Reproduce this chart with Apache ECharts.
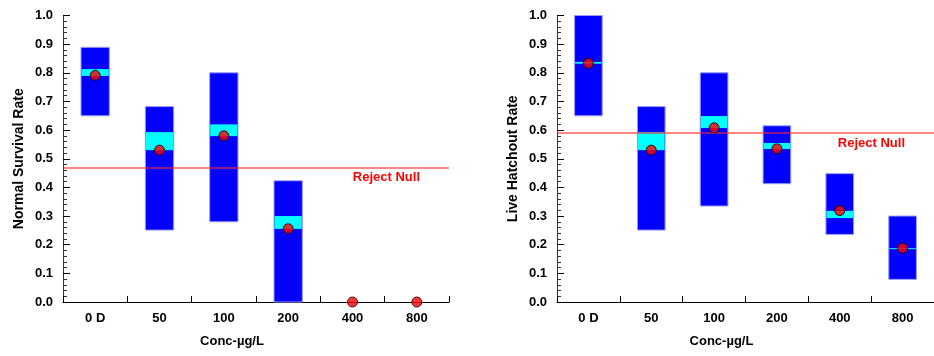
<!DOCTYPE html>
<html>
<head>
<meta charset="utf-8">
<script src="https://cdn.jsdelivr.net/npm/echarts@6/dist/echarts.min.js"></script>
<style>
html,body{margin:0;padding:0;background:#fff;}
#chart{width:934px;height:356px;}
</style>
</head>
<body>
<div id="chart"></div>
<script>
var categories = ['0 D', '50', '100', '200', '400', '800'];
var yTicks = [0, 0.1, 0.2, 0.3, 0.4, 0.5, 0.6, 0.7, 0.8, 0.9, 1.0];

// Left panel: Normal Survival Rate
var survMin    = [0.650, 0.251, 0.280, 0.000, null, null];
var survMax    = [0.889, 0.682, 0.800, 0.423, null, null];
var survBandLo = [0.789, 0.530, 0.579, 0.255, null, null];
var survBandHi = [0.813, 0.593, 0.620, 0.300, null, null];
var survMean   = [0.791, 0.530, 0.580, 0.256, 0.000, 0.000];
var survReject = 0.465;

// Right panel: Live Hatchout Rate
var hatchMin    = [0.650, 0.251, 0.335, 0.413, 0.236, 0.079];
var hatchMax    = [1.000, 0.682, 0.800, 0.615, 0.448, 0.300];
var hatchBandLo = [0.832, 0.530, 0.607, 0.534, 0.293, 0.186];
var hatchBandHi = [0.838, 0.593, 0.649, 0.555, 0.318, 0.188];
var hatchMean   = [0.833, 0.530, 0.608, 0.535, 0.319, 0.188];
var hatchReject = 0.587;

var FONT = "'Liberation Sans', Arial, sans-serif";

function boxData(mn, mx, lo, hi) {
  var out = [];
  for (var i = 0; i < categories.length; i++) {
    if (mn[i] == null) continue;
    out.push([i, mn[i], mx[i], lo[i], hi[i]]);
  }
  return out;
}

function renderBox(params, api) {
  var idx = api.value(0);
  var pMin = api.coord([idx, api.value(1)]);
  var pMax = api.coord([idx, api.value(2)]);
  var pLo = api.coord([idx, api.value(3)]);
  var pHi = api.coord([idx, api.value(4)]);
  var w = api.size([1, 0])[0] * 0.44;
  var x = pMin[0] - w / 2;
  return {
    type: 'group',
    children: [
      {type: 'rect', shape: {x: x, y: pMax[1], width: w, height: pMin[1] - pMax[1]},
       style: {fill: '#0000ff', stroke: '#9a9aff', lineWidth: 1}},
      {type: 'rect', shape: {x: x + 0.5, y: pHi[1], width: w - 1, height: Math.max(pLo[1] - pHi[1], 1)},
       style: {fill: '#00ffff'}}
    ]
  };
}

function xAxisCfg(gi) {
  return {
    gridIndex: gi, type: 'category', data: categories, boundaryGap: true,
    name: 'Conc-\u00b5g/L', nameLocation: 'middle', nameGap: 33,
    nameTextStyle: {fontFamily: FONT, fontWeight: 'bold', fontSize: 13, color: '#000', padding: [0, 48, 0, 0]},
    axisLine: {show: true, lineStyle: {color: '#000', width: 1}},
    axisTick: {show: true, inside: true, length: 6, interval: 0, alignWithLabel: false, lineStyle: {color: '#000'}},
    axisLabel: {interval: 0, margin: 10, fontFamily: FONT, fontWeight: 'bold', fontSize: 13, color: '#000'},
    splitLine: {show: false}
  };
}

function yAxisCfg(gi, name) {
  return {
    gridIndex: gi, type: 'value', min: 0, max: 1, interval: 0.1,
    name: name, nameLocation: 'middle', nameGap: 37, nameRotate: 90,
    nameTextStyle: {fontFamily: FONT, fontWeight: 'bold', fontSize: 14, color: '#000'},
    axisLine: {show: true, lineStyle: {color: '#333', width: 1}},
    axisTick: {show: true, inside: true, length: 7, lineStyle: {color: '#000'}},
    minorTick: {show: true, splitNumber: 5, length: 4, lineStyle: {color: '#333'}},
    axisLabel: {margin: 10, fontFamily: FONT, fontWeight: 'bold', fontSize: 13, color: '#000',
      formatter: function (v) { return v.toFixed(1); }},
    splitLine: {show: false}
  };
}

function rejectLine(xi, yi, val) {
  return {
    type: 'line', xAxisIndex: xi, yAxisIndex: yi, data: [], silent: true,
    markLine: {
      silent: true, symbol: ['none', 'none'], animation: false,
      lineStyle: {color: 'rgba(255,40,40,0.75)', width: 1.5, type: 'solid'},
      label: {show: true, position: 'insideEndBottom', distance: [29, 4], formatter: 'Reject Null',
        color: '#ff0000', fontFamily: FONT, fontWeight: 'bold', fontSize: 13},
      data: [{yAxis: val}]
    },
    z: 3
  };
}

var option = {
  animation: false,
  backgroundColor: '#fff',
  grid: [
    {left: 63, top: 15.5, width: 386, height: 286.5},
    {left: 557, top: 15.5, width: 385, height: 286.5}
  ],
  xAxis: [xAxisCfg(0), xAxisCfg(1)],
  yAxis: [yAxisCfg(0, 'Normal Survival Rate'), yAxisCfg(1, 'Live Hatchout Rate')],
  series: [
    {type: 'custom', xAxisIndex: 0, yAxisIndex: 0, renderItem: renderBox,
     data: boxData(survMin, survMax, survBandLo, survBandHi), z: 2, clip: false},
    {type: 'custom', xAxisIndex: 1, yAxisIndex: 1, renderItem: renderBox,
     data: boxData(hatchMin, hatchMax, hatchBandLo, hatchBandHi), z: 2, clip: false},
    rejectLine(0, 0, survReject),
    rejectLine(1, 1, hatchReject),
    {type: 'scatter', xAxisIndex: 0, yAxisIndex: 0, data: survMean, symbolSize: 10, z: 5,
     itemStyle: {color: '#ff0000', borderColor: '#000', borderWidth: 1}, clip: false},
    {type: 'scatter', xAxisIndex: 1, yAxisIndex: 1, data: hatchMean, symbolSize: 10, z: 5,
     itemStyle: {color: '#ff0000', borderColor: '#000', borderWidth: 1}, clip: false}
  ]
};

var chart = echarts.init(document.getElementById('chart'), null, {renderer: 'canvas'});
chart.setOption(option);
</script>
</body>
</html>
